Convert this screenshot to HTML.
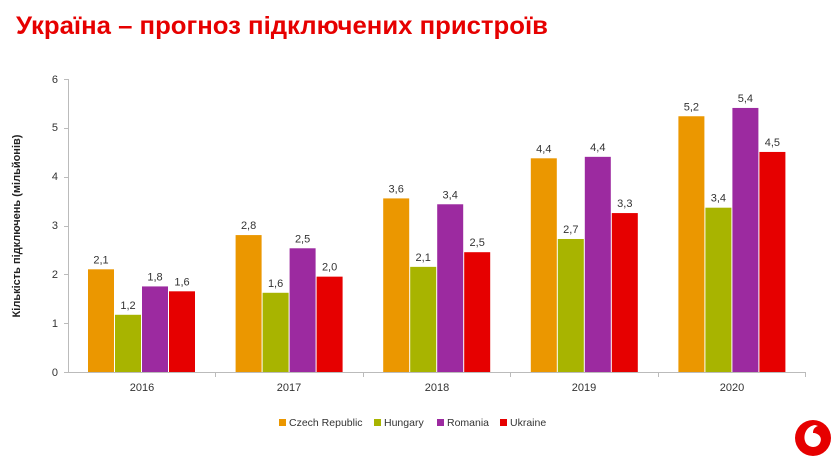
<!DOCTYPE html>
<html><head><meta charset="utf-8"><style>
body{margin:0;width:840px;height:465px;background:#fff;overflow:hidden;font-family:"Liberation Sans",sans-serif}
</style></head><body>
<svg width="840" height="465" xmlns="http://www.w3.org/2000/svg" font-family="Liberation Sans, DejaVu Sans, sans-serif">
<text x="16" y="34" font-size="25" font-weight="bold" fill="#e60000" textLength="532" lengthAdjust="spacingAndGlyphs">Україна – прогноз підключених пристроїв</text>
<g font-size="11" fill="#333" text-anchor="end">
<text x="58" y="376">0</text><text x="58" y="327">1</text><text x="58" y="278">2</text><text x="58" y="229">3</text><text x="58" y="180">4</text><text x="58" y="131">5</text><text x="58" y="83">6</text>
</g>
<g stroke="#bbb" stroke-width="1">
<line x1="68.5" y1="79" x2="68.5" y2="373"/>
<line x1="68" y1="372.5" x2="806" y2="372.5"/>
<line x1="64" y1="79.5" x2="68" y2="79.5"/><line x1="64" y1="128.5" x2="68" y2="128.5"/><line x1="64" y1="177.5" x2="68" y2="177.5"/><line x1="64" y1="226.5" x2="68" y2="226.5"/><line x1="64" y1="274.5" x2="68" y2="274.5"/><line x1="64" y1="323.5" x2="68" y2="323.5"/><line x1="64" y1="372.5" x2="68" y2="372.5"/>
<line x1="215.5" y1="372" x2="215.5" y2="377"/><line x1="363.5" y1="372" x2="363.5" y2="377"/><line x1="510.5" y1="372" x2="510.5" y2="377"/><line x1="658.5" y1="372" x2="658.5" y2="377"/><line x1="805.5" y1="372" x2="805.5" y2="377"/>
</g>
<text transform="translate(20,226) rotate(-90)" font-size="11" font-weight="bold" fill="#222" text-anchor="middle">Кількість підключень (мільйонів)</text>
<g id="bars" font-size="11" fill="#333" text-anchor="middle"></g>
<g font-size="11" fill="#333" text-anchor="middle">
<text x="142" y="391">2016</text><text x="289" y="391">2017</text><text x="437" y="391">2018</text><text x="584" y="391">2019</text><text x="732" y="391">2020</text>
</g>
<g font-size="10.5" fill="#333">
<rect x="279" y="419" width="7" height="7" fill="#eb9700"/><text x="289" y="426">Czech Republic</text>
<rect x="374" y="419" width="7" height="7" fill="#a8b400"/><text x="384" y="426">Hungary</text>
<rect x="437" y="419" width="7" height="7" fill="#9c2aa0"/><text x="447" y="426">Romania</text>
<rect x="500" y="419" width="7" height="7" fill="#e60000"/><text x="510" y="426">Ukraine</text>
</g>
<circle cx="813" cy="438" r="18" fill="#e60000"/>
<path d="M815 425 C807 426 803 434 805 441 C807 448 817 449 820 443 C823 437 818 433 813 433 C813 429 815 427 818 426 Z" fill="#fff"/>
</svg>
<script>
var d=[[2.1,1.17,1.75,1.65],[2.8,1.62,2.53,1.95],[3.55,2.15,3.43,2.45],[4.37,2.72,4.4,3.25],[5.23,3.36,5.4,4.5]];
var lab=[["2,1","1,2","1,8","1,6"],["2,8","1,6","2,5","2,0"],["3,6","2,1","3,4","2,5"],["4,4","2,7","4,4","3,3"],["5,2","3,4","5,4","4,5"]];
var c=["#eb9700","#a8b400","#9c2aa0","#e60000"];
var g=document.getElementById("bars"),s="";
for(var i=0;i<5;i++){var x0=88+147.6*i;for(var j=0;j<4;j++){var h=d[i][j]*48.9,x=x0+j*27;
s+='<rect x="'+x+'" y="'+(372-h)+'" width="26" height="'+h+'" fill="'+c[j]+'"/>';
s+='<text x="'+(x+13)+'" y="'+(372-h-6)+'">'+lab[i][j]+'</text>';}}
g.innerHTML=s;
</script>
</body></html>
